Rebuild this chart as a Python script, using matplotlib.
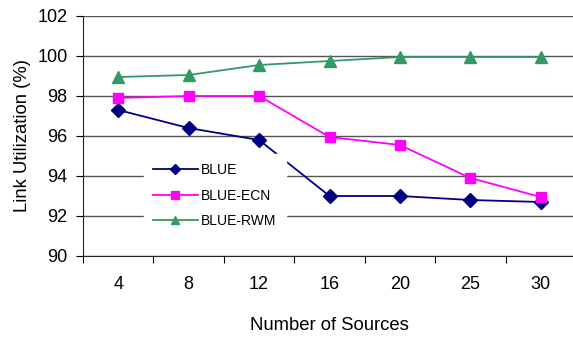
import numpy as np
import matplotlib
matplotlib.use("Agg")
import matplotlib.pyplot as plt

plt.rcParams['font.family'] = ['Liberation Sans Narrow', 'Liberation Sans', 'DejaVu Sans']

sources = ['4', '8', '12', '16', '20', '25', '30']
blue = [97.3, 96.4, 95.8, 93.0, 93.0, 92.8, 92.7]
blue_ecn = [97.9, 98.0, 98.0, 95.95, 95.55, 93.9, 92.95]
blue_rwm = [98.95, 99.05, 99.55, 99.75, 99.95, 99.95, 99.95]

fig = plt.figure(figsize=(5.73, 3.37), dpi=100)
ax = fig.add_axes([83/573, 1 - 256/337, 493/573, 240/337])

x = np.arange(len(sources))
ax.plot(x, blue, color='#000080', marker='D', markersize=7, linewidth=1.3, label='BLUE', zorder=3)
ax.plot(x, blue_ecn, color='#FF00FF', marker='s', markersize=7, linewidth=1.3, label='BLUE-ECN', zorder=3)
ax.plot(x, blue_rwm, color='#339966', marker='^', markersize=8.5, linewidth=1.3, label='BLUE-RWM', zorder=3)

ax.set_xlim(-0.5, len(sources) - 0.5)
ax.set_ylim(90, 102)
ax.set_yticks(np.arange(90, 103, 2))
ax.yaxis.grid(True, color='#555555', linewidth=1)
ax.set_axisbelow(True)

# tick marks between categories, labels under each category
ax.set_xticks(np.arange(-0.5, len(sources), 1))
ax.set_xticklabels([])
ax.set_xticks(x, minor=True)
ax.set_xticklabels(sources, minor=True)
ax.tick_params(axis='x', which='major', length=5, direction='out', color='black')
ax.tick_params(axis='x', which='minor', length=0, pad=14.5, labelsize=13)
ax.tick_params(axis='y', length=5, direction='out', pad=6, labelsize=13)

for s in ['top', 'right']:
    ax.spines[s].set_visible(False)
ax.spines['left'].set_color('#222222')
ax.spines['bottom'].set_color('#222222')

ax.set_xlabel('Number of Sources', fontsize=13.3, labelpad=17)
ax.set_ylabel('Link Utilization (%)', fontsize=13.3, labelpad=4.5)

leg = ax.legend(loc='upper left', bbox_to_anchor=(144/573, 1 - 154/337),
                bbox_transform=fig.transFigure, fontsize=10, frameon=True,
                fancybox=False, edgecolor='white', facecolor='white', framealpha=1,
                handlelength=3.2, handletextpad=0.25, labelspacing=0.82,
                borderpad=0.66, borderaxespad=0, markerscale=0.75)

fig.savefig('out.png', dpi=100)
